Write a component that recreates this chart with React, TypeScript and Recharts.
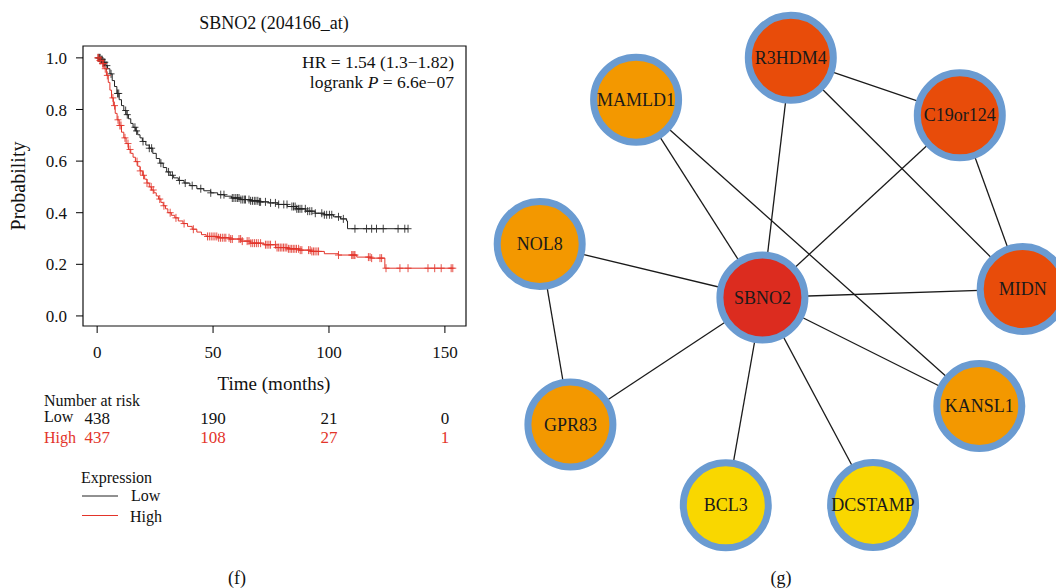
import React from 'react';
import {
  ComposedChart, ScatterChart, Line, Scatter, XAxis, YAxis, ReferenceArea,
} from 'recharts';

// Kaplan-Meier steps (months, survival probability)
const lowTimes = [0, 1.5, 2.5, 3.5, 4.5, 5.5, 6.5, 7.5, 8.5, 9.5, 10.5, 11.5, 12.5, 13.5, 14.5, 15.5, 16.5, 17.5, 18.5, 19.5, 21, 22.5, 24, 25.5, 27, 28.5, 30, 31.5, 33, 35, 37.5, 40, 43, 46, 49, 52, 55, 58, 62, 66, 70, 74, 78, 82, 86, 90, 94, 98, 102, 105, 107.6, 108, 134.1];
const lowSurv = [1, 0.993, 0.983, 0.97, 0.958, 0.938, 0.912, 0.889, 0.862, 0.838, 0.815, 0.796, 0.78, 0.764, 0.746, 0.731, 0.717, 0.702, 0.69, 0.676, 0.662, 0.65, 0.63, 0.61, 0.592, 0.575, 0.558, 0.545, 0.535, 0.525, 0.515, 0.505, 0.493, 0.485, 0.477, 0.47, 0.464, 0.457, 0.451, 0.446, 0.442, 0.438, 0.432, 0.424, 0.415, 0.406, 0.398, 0.392, 0.384, 0.376, 0.368, 0.338, 0.338];
const highTimes = [0, 1, 2, 3, 4, 4.8, 5.5, 6.2, 7, 7.8, 8.6, 9.5, 10.5, 11.5, 12.5, 13.5, 14.5, 15.5, 16.5, 17.5, 18.5, 19.5, 20.5, 21.5, 22.5, 23.5, 24.5, 25.5, 26.5, 27.5, 28.5, 29.5, 30.5, 32, 33.5, 35, 37, 39, 41, 43, 45, 47, 52, 57, 62, 66, 72, 77, 82, 87, 92, 98, 104, 112, 118, 124.1, 153.4];
const highSurv = [1, 0.99, 0.978, 0.958, 0.932, 0.905, 0.875, 0.845, 0.815, 0.785, 0.76, 0.738, 0.712, 0.69, 0.668, 0.645, 0.63, 0.615, 0.598, 0.58, 0.562, 0.545, 0.53, 0.515, 0.5, 0.488, 0.477, 0.465, 0.453, 0.44, 0.427, 0.415, 0.4, 0.39, 0.38, 0.368, 0.358, 0.347, 0.336, 0.325, 0.315, 0.308, 0.303, 0.298, 0.29, 0.282, 0.276, 0.265, 0.26, 0.255, 0.25, 0.241, 0.236, 0.228, 0.224, 0.185, 0.185];

// censored follow-up times
const lowCensor = [0.5, 1, 1.3, 1.8, 2.2, 2.8, 3.3, 4.2, 6, 8.8, 9.3, 12.3, 13, 16.3, 17, 19.8, 22.5, 23.5, 27.5, 30.8, 32.5, 35.5, 38, 41, 44.7, 49, 53.3, 54.7, 58.3, 59, 59.8, 60.5, 61.2, 62, 62.8, 63.5, 64, 65.5, 66.2, 67, 67.8, 68.5, 69.3, 70, 70.5, 72.6, 74.8, 76.9, 78.3, 80.5, 81.9, 84, 84.7, 85.4, 86.1, 86.8, 87.5, 88.3, 89.8, 90.8, 91.7, 92.6, 94.1, 96.9, 98, 99, 100.2, 101.2, 104.1, 106.2, 111.2, 116.2, 118.4, 120.5, 123.4, 129.8, 132.7, 134.1];
const highCensor = [0.3, 0.7, 1.2, 1.6, 2.3, 2.8, 3.5, 4.4, 6.8, 7.5, 9, 9.8, 10.3, 12, 13.3, 14.2, 17.2, 18.6, 20, 21.5, 23.3, 24.2, 27, 28.8, 31.5, 34, 37.5, 41.5, 47.6, 48.4, 49.2, 50, 50.8, 51.6, 52.4, 53.2, 54, 54.8, 55.5, 56.9, 57.6, 58.3, 61.2, 61.9, 62.6, 64.7, 65.5, 66.3, 67.1, 67.9, 68.7, 69.5, 70.5, 72.6, 73.3, 74.1, 74.8, 76.9, 77.6, 78.3, 79, 79.7, 80.4, 81.1, 81.8, 82.5, 83.2, 83.9, 84.6, 85.3, 86, 86.9, 87.6, 88.3, 91.2, 91.9, 92.6, 93.3, 94, 94.8, 95.5, 104.1, 109.8, 110.3, 110.8, 111.2, 117, 117.7, 118.4, 122, 122.7, 124.6, 130.6, 134.1, 142.7, 145.6, 148.4, 152.7, 153.4];

const timeTicks = [0, 50, 100, 150];
const probTicks = [0, 0.2, 0.4, 0.6, 0.8, 1];
const riskLow = [438, 190, 21, 0];
const riskHigh = [437, 108, 27, 1];

// interaction network
const genes = ['R3HDM4', 'MAMLD1', 'C19or124', 'NOL8', 'SBNO2', 'MIDN', 'GPR83', 'KANSL1', 'BCL3', 'DCSTAMP'];
const geneX = [310.8, 156.1, 479.8, 59.7, 282.4, 542.7, 90.4, 499.3, 245.8, 393.1];
const geneY = [57.8, 99.7, 115.3, 244, 297.5, 289, 424.5, 406, 505.3, 505];
const geneColor = ['#e84c0a', '#f39800', '#e84c0a', '#f39800', '#dc2c1f', '#e84c0a', '#f39800', '#f39800', '#f9d700', '#f9d700'];
const links: [string, string][] = [
  ['MAMLD1', 'SBNO2'], ['MAMLD1', 'KANSL1'], ['R3HDM4', 'SBNO2'], ['R3HDM4', 'C19or124'],
  ['R3HDM4', 'MIDN'], ['C19or124', 'SBNO2'], ['C19or124', 'MIDN'], ['NOL8', 'SBNO2'],
  ['NOL8', 'GPR83'], ['SBNO2', 'MIDN'], ['SBNO2', 'GPR83'], ['SBNO2', 'KANSL1'],
  ['SBNO2', 'BCL3'], ['SBNO2', 'DCSTAMP'],
];

const RED = '#e3342a';
const FONT = '"Liberation Serif", "Times New Roman", serif';
const X_DOMAIN: [number, number] = [-6.1, 159.1];
const Y_DOMAIN: [number, number] = [-0.039, 1.046];

const stepAt = (times: number[], surv: number[], t: number) => {
  let v = surv[0];
  for (let i = 0; i < times.length; i++) if (times[i] <= t) v = surv[i];
  return v;
};

const lowData = lowTimes.map((t, i) => ({ t, p: lowSurv[i] }));
const highData = highTimes.map((t, i) => ({ t, p: highSurv[i] }));
const lowMarks = lowCensor.map((t) => ({ t, p: stepAt(lowTimes, lowSurv, t) }));
const highMarks = highCensor.map((t) => ({ t, p: stepAt(highTimes, highSurv, t) }));
// anchor rows so the number-at-risk axes get a scale
const riskRows = timeTicks.map((t) => ({ t, p: 0.5 }));

const Plus = ({ cx, cy, color }: any) => (
  <g stroke={color} strokeWidth={1} opacity={0.85}>
    <line x1={cx} x2={cx} y1={cy - 4} y2={cy + 4} />
    <line x1={cx - 3.5} x2={cx + 3.5} y1={cy} y2={cy} />
  </g>
);

const GeneNode = ({ cx, cy, payload }: any) => (
  <g>
    <circle cx={cx} cy={cy} r={42.5} fill={payload.color} stroke="#6a9bd1" strokeWidth={7} />
    <text x={cx} y={cy} textAnchor="middle" dominantBaseline="central" fontSize={18} fontFamily={FONT} fill="#1a1a1a">
      {payload.name}
    </text>
  </g>
);

const SurvivalPlot = () => (
  <div style={{ position: 'absolute', left: 0, top: 0, width: 480, height: 588 }}>
    <ComposedChart width={480} height={588} margin={{ top: 46, right: 14, bottom: 138, left: 23 }}>
      <XAxis dataKey="t" type="number" domain={X_DOMAIN} ticks={timeTicks} allowDataOverflow
        axisLine={false} tickSize={7} tickMargin={13} height={86} stroke="#000"
        tick={{ fill: '#111', fontSize: 17, fontFamily: FONT }} />
      <XAxis xAxisId="riskA" dataKey="t" type="number" domain={X_DOMAIN} ticks={timeTicks} allowDataOverflow
        axisLine={false} tickLine={false} tickSize={0} tickMargin={0} height={19} interval={0}
        tickFormatter={(v: number) => String(riskLow[timeTicks.indexOf(v)])}
        tick={{ fill: '#111', fontSize: 17, fontFamily: FONT }} />
      <XAxis xAxisId="riskB" dataKey="t" type="number" domain={X_DOMAIN} ticks={timeTicks} allowDataOverflow
        axisLine={false} tickLine={false} tickSize={0} tickMargin={0} height={19} interval={0}
        tickFormatter={(v: number) => String(riskHigh[timeTicks.indexOf(v)])}
        tick={{ fill: RED, fontSize: 17, fontFamily: FONT }} />
      <YAxis dataKey="p" type="number" domain={Y_DOMAIN} ticks={probTicks} allowDataOverflow width={60}
        axisLine={false} tickSize={7} tickMargin={9} stroke="#000"
        tickFormatter={(v: number) => v.toFixed(1)}
        tick={{ fill: '#111', fontSize: 17, fontFamily: FONT }} />
      <ReferenceArea x1={X_DOMAIN[0]} x2={X_DOMAIN[1]} y1={Y_DOMAIN[0]} y2={Y_DOMAIN[1]}
        fill="none" fillOpacity={0} stroke="#111" strokeWidth={1.2} />
      <Scatter xAxisId="riskA" data={riskRows} dataKey="p" isAnimationActive={false} shape={() => <g />} />
      <Scatter xAxisId="riskB" data={riskRows} dataKey="p" isAnimationActive={false} shape={() => <g />} />
      <Line data={lowData} dataKey="p" type="stepAfter" stroke="#222" strokeWidth={1} dot={false} isAnimationActive={false} />
      <Line data={highData} dataKey="p" type="stepAfter" stroke={RED} strokeWidth={1} dot={false} isAnimationActive={false} />
      <Scatter data={lowMarks} dataKey="p" isAnimationActive={false}
        shape={(props: any) => <Plus {...props} color="#222" />} />
      <Scatter data={highMarks} dataKey="p" isAnimationActive={false}
        shape={(props: any) => <Plus {...props} color={RED} />} />
    </ComposedChart>
    <svg width={480} height={588} style={{ position: 'absolute', left: 0, top: 0, pointerEvents: 'none' }}
      fontFamily={FONT} fill="#111">
      <text x={274} y={23} textAnchor="middle" dominantBaseline="central" fontSize={18}>SBNO2 (204166_at)</text>
      <text x={454} y={62} textAnchor="end" dominantBaseline="central" fontSize={17.5}>HR = 1.54 (1.3−1.82)</text>
      <text x={454} y={82} textAnchor="end" dominantBaseline="central" fontSize={17.5}>
        logrank <tspan fontStyle="italic">P</tspan> = 6.6e−07
      </text>
      <text x={18} y={186} textAnchor="middle" dominantBaseline="central" fontSize={20}
        transform="rotate(-90 18 186)">Probability</text>
      <text x={274} y={383} textAnchor="middle" dominantBaseline="central" fontSize={19}>Time (months)</text>
      <text x={44} y={400} dominantBaseline="central" fontSize={16}>Number at risk</text>
      <text x={44} y={416} dominantBaseline="central" fontSize={16}>Low</text>
      <text x={44} y={437} dominantBaseline="central" fontSize={16} fill={RED}>High</text>
      <text x={81} y={477} dominantBaseline="central" fontSize={16}>Expression</text>
      <line x1={82} x2={118} y1={496} y2={496} stroke="#222" strokeWidth={1} />
      <line x1={82} x2={118} y1={515.5} y2={515.5} stroke={RED} strokeWidth={1} />
      <text x={131} y={495} dominantBaseline="central" fontSize={16}>Low</text>
      <text x={130} y={516} dominantBaseline="central" fontSize={16}>High</text>
      <text x={237} y={578} textAnchor="middle" dominantBaseline="central" fontSize={18}>(f)</text>
    </svg>
  </div>
);

const nodeData = genes.map((name, i) => ({ x: geneX[i], y: geneY[i], name, color: geneColor[i] }));
const pos = (name: string) => nodeData[genes.indexOf(name)];

const NetworkPlot = () => (
  <div style={{ position: 'absolute', left: 480, top: 0, width: 576, height: 588 }}>
    <ScatterChart width={576} height={588} margin={{ top: 0, right: 0, bottom: 0, left: 0 }}>
      <XAxis dataKey="x" type="number" domain={[0, 576]} hide />
      <YAxis dataKey="y" type="number" domain={[0, 588]} reversed hide />
      {links.map(([a, b]) => (
        <Scatter key={a + b} data={[pos(a), pos(b)]} isAnimationActive={false}
          line={{ stroke: '#1a1a1a', strokeWidth: 1.3 }} shape={() => <g />} />
      ))}
      <Scatter data={nodeData} isAnimationActive={false} shape={GeneNode} />
    </ScatterChart>
    <svg width={576} height={588} style={{ position: 'absolute', left: 0, top: 0, pointerEvents: 'none' }}>
      <text x={301} y={578} textAnchor="middle" dominantBaseline="central" fontSize={18}
        fontFamily={FONT} fill="#111">(g)</text>
    </svg>
  </div>
);

export default function App() {
  return (
    <div style={{ position: 'absolute', left: 0, top: 0, width: 1056, height: 588, background: '#fff', overflow: 'hidden' }}>
      <SurvivalPlot />
      <NetworkPlot />
    </div>
  );
}
